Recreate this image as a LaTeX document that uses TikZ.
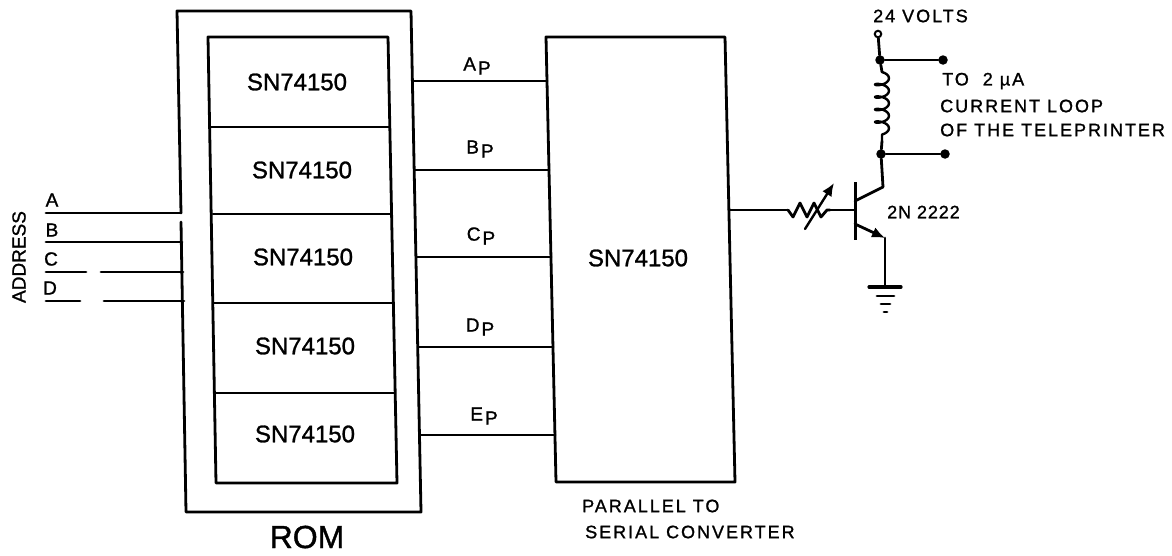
\documentclass[tikz,border=0pt]{standalone}
\usepackage{fontspec}
\setmainfont[FakeBold=1.2]{Liberation Sans}
\newfontfamily\spcfont[LetterSpace=11,FakeBold=1.2]{Liberation Sans}
\newfontfamily\tightfont[LetterSpace=5,FakeBold=1.2]{Liberation Sans}
\usetikzlibrary{arrows.meta,decorations.pathmorphing,calc}
\tikzset{
  wire/.style={line width=2.8pt,line cap=round,line join=round,black},
  thinwire/.style={line width=2.4pt,line cap=round,line join=round,black},
  chiplabel/.style={inner sep=0pt,font=\fontsize{24}{24}\selectfont},
  portlabel/.style={inner sep=0pt,font=\fontsize{19}{19}\selectfont},
  smalllabel/.style={inner sep=0pt,anchor=west,font=\fontsize{18}{18}\selectfont\spcfont},
  dotnode/.style={circle,fill=black,inner sep=0pt,minimum size=9.5pt},
  opennode/.style={circle,draw=black,line width=2pt,fill=white,inner sep=0pt,minimum size=6.5pt},
  headtip/.style={-{Latex[length=13pt,width=11pt]}}
}
\newcommand{\subP}{\kern2pt\raisebox{-4pt}{P}}
\begin{document}
\begin{tikzpicture}[x=1pt,y=-1pt]
\useasboundingbox (0,0) rectangle (1172,555);
% ROM outer
\coordinate (otl) at (177,11);
\coordinate (otr) at (411,11);
\coordinate (obr) at (421,512);
\coordinate (obl) at (186,512);
\coordinate (ogapa) at (181,213);
\coordinate (ogapb) at (181,222);
\draw[wire] (ogapa) -- (otl) -- (otr) -- (obr) -- (obl) -- (ogapb);
% ROM inner
\coordinate (itl) at (208,37);
\coordinate (itr) at (388,37);
\coordinate (ibr) at (397,483);
\coordinate (ibl) at (216,483);
\draw[wire] (itl) -- (itr) -- (ibr) -- (ibl) -- cycle;
\foreach \n/\y/\xa/\xb in {1/127/211/390,2/214/213/391,3/303/214/392,4/393/215/395}{
  \coordinate (dl\n) at (\xa,\y);
  \coordinate (dr\n) at (\xb,\y);
  \draw[thinwire] (dl\n) -- (dr\n);
}
% Converter
\coordinate (ctl) at (546,37);
\coordinate (ctr) at (725,37);
\coordinate (cbr) at (735,482);
\coordinate (cbl) at (556,482);
\draw[wire] (ctl) -- (ctr) -- (cbr) -- (cbl) -- cycle;
% chip labels
\node[chiplabel] (rom1) at (297,82) {SN74150};
\node[chiplabel] (rom2) at (302,170) {SN74150};
\node[chiplabel] (rom3) at (303,257) {SN74150};
\node[chiplabel] (rom4) at (305,346) {SN74150};
\node[chiplabel] (rom5) at (305,434) {SN74150};
\node[chiplabel] (conv) at (638,258) {SN74150};
\node[inner sep=0pt,font=\fontsize{32}{32}\selectfont] (romlabel) at (307,537) {ROM};
% bus between ROM and converter
\foreach \n/\y/\xa/\xb in {a/81/414/547,b/170/415/549,c/257/417/551,d/347/418/553,e/435/421/555}{
  \coordinate (ps\n) at (\xa,\y);
  \coordinate (pe\n) at (\xb,\y);
  \draw[wire] (ps\n) -- (pe\n);
}
\node[portlabel] (lap) at (477,66) {A\subP};
\node[portlabel] (lbp) at (480,149) {B\subP};
\node[portlabel] (lcp) at (481,236) {C\subP};
\node[portlabel] (ldp) at (480,327) {D\subP};
\node[portlabel] (lep) at (484,416) {E\subP};
% address lines
\coordinate (aa0) at (46,213); \coordinate (aa1) at (181,213);
\coordinate (ab0) at (46,242); \coordinate (ab1) at (182,242);
\coordinate (ac0) at (46,272); \coordinate (ac1) at (86,272);
\coordinate (ac2) at (101,272); \coordinate (ac3) at (183,272);
\coordinate (ad0) at (46,301); \coordinate (ad1) at (80,301);
\coordinate (ad2) at (104,301); \coordinate (ad3) at (184,301);
\draw[wire] (aa0) -- (aa1);
\draw[wire] (ab0) -- (ab1);
\draw[wire] (ac0) -- (ac1);
\draw[wire] (ac2) -- (ac3);
\draw[wire] (ad0) -- (ad1);
\draw[wire] (ad2) -- (ad3);
\node[portlabel] (la) at (52,200) {A};
\node[portlabel] (lb) at (52,230) {B};
\node[portlabel] (lc) at (51,259) {C};
\node[portlabel] (ld) at (50,288) {D};
\node[inner sep=0pt,rotate=90,font=\fontsize{19}{19}\selectfont] (addr) at (19,257) {ADDRESS};
% output + variable resistor
\coordinate (cout) at (729,210);
\coordinate (r0) at (788,210);
\coordinate (r1) at (830,210);
\coordinate (bpt) at (855,210);
\draw[wire] (cout) -- (r0);
\draw[wire] (r0) -- ++(5,7) -- ++(7,-14) -- ++(7,14) -- ++(7,-14) -- ++(7,14) -- ++(6,-7) -- (r1);
\draw[wire] (r1) -- (bpt);
\coordinate (va) at (805,229);
\coordinate (vb) at (834,183);
\draw[thinwire,headtip] (va) -- (vb);
% transistor
\coordinate (bar0) at (855,182);
\coordinate (bar1) at (855,240);
\coordinate (col0) at (855,201);
\coordinate (col1) at (883,187);
\coordinate (emi0) at (855,224);
\coordinate (emi1) at (885,238);
\coordinate (gnd0) at (885,286);
\draw[line width=3pt,black] (bar0) -- (bar1);
\draw[wire] (col0) -- (col1);
\draw[wire,headtip] (emi0) -- (emi1);
\draw[wire] (emi1) -- (gnd0);
% ground
\coordinate (g1a) at (869,287); \coordinate (g1b) at (901,287);
\coordinate (g2a) at (877,296); \coordinate (g2b) at (894,296);
\coordinate (g3a) at (881,304); \coordinate (g3b) at (890,304);
\coordinate (g4a) at (884,312); \coordinate (g4b) at (887,312);
\draw[wire,line width=3.2pt] (g1a) -- (g1b);
\draw[wire] (g2a) -- (g2b);
\draw[wire] (g3a) -- (g3b);
\draw[wire] (g4a) -- (g4b);
% supply, inductor
\node[opennode] (vcc) at (878,34) {};
\node[dotnode] (d1) at (880,60) {};
\node[dotnode] (d2) at (943,60) {};
\node[dotnode] (d3) at (881,154) {};
\node[dotnode] (d4) at (945,154) {};
\draw[wire] (vcc) -- (d1);
\draw[wire] (d1) -- (d2);
\draw[wire] (d3) -- (d4);
\draw[wire] (d3) -- (col1);
\coordinate (l0) at (882,72);
\coordinate (l1) at (882,141);
\draw[wire] (d1) -- (l0);
\draw[wire] (l1) -- (d3);
\draw[thinwire,decorate,decoration={coil,amplitude=7pt,segment length=12.5pt,aspect=0.45}] (l0) -- (l1);
% small labels
\node[smalllabel] (v24) at (873,16) {24 VOLTS};
\node[smalllabel] (to2) at (942,81) {TO~ 2 µA};
\node[smalllabel] (cur) at (940,106) {CURRENT LOOP};
\node[smalllabel] (oft) at (940,130) {OF THE TELEPRINTER};
\node[smalllabel,font=\fontsize{18}{18}\selectfont\tightfont] (t2n) at (887,212) {2N 2222};
\node[smalllabel] (par) at (582,506) {PARALLEL TO};
\node[smalllabel] (ser) at (585,532) {SERIAL CONVERTER};
\end{tikzpicture}
\end{document}
